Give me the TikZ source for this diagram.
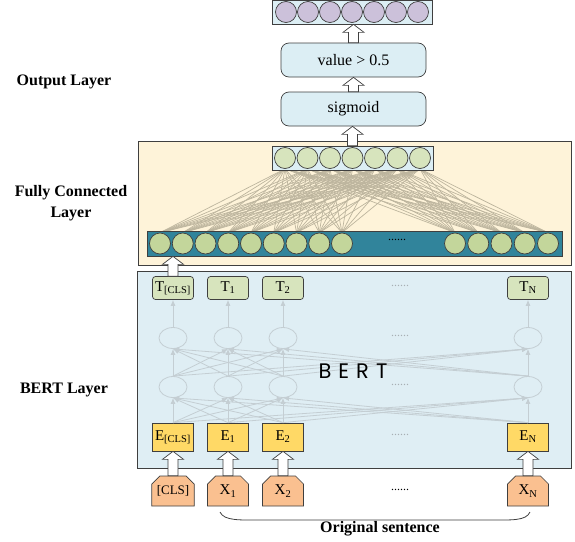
\documentclass[tikz,border=0pt]{standalone}
\usepackage{fontspec}
\setmainfont{Liberation Serif}
\newfontfamily\bertfont{Poppins}
\usetikzlibrary{arrows.meta, calc, shapes.geometric, shapes.misc}

\definecolor{boxblue}{HTML}{DCEEF4}
\definecolor{bertblue}{HTML}{DFEEF4}
\definecolor{fccream}{HTML}{FEF3D9}
\definecolor{outpurple}{HTML}{CCC1DA}
\definecolor{neurgreen}{HTML}{D7E4BD}
\definecolor{ingreen}{HTML}{C3D69B}
\definecolor{rowteal}{HTML}{31849B}
\definecolor{wirebeige}{HTML}{BDB59E}
\definecolor{hidgray}{HTML}{C4CED3}
\definecolor{embyellow}{HTML}{FFD966}
\definecolor{inppeach}{HTML}{FAC090}
\definecolor{edgegray}{HTML}{3F3F3F}

\pgfdeclarelayer{back}
\pgfdeclarelayer{mid}
\pgfsetlayers{back,mid,main}

\tikzset{
  neur/.style={circle, draw=edgegray, line width=0.7pt, minimum size=21pt, inner sep=0pt},
  row/.style={draw=edgegray, line width=0.7pt, inner sep=0pt},
  panel/.style={draw=edgegray, line width=0.7pt, inner sep=0pt},
  stage/.style={draw=edgegray, line width=0.7pt, rounded corners=8pt, fill=boxblue, minimum width=145pt, minimum height=34pt, font=\fontsize{16}{18}\selectfont},
  tok/.style={draw=edgegray, line width=0.7pt, rounded corners=3pt, fill=neurgreen, minimum width=41pt, minimum height=23pt, inner sep=1pt, font=\fontsize{15}{17}\selectfont},
  emb/.style={draw=edgegray, line width=0.7pt, fill=embyellow, minimum width=41pt, minimum height=28pt, inner sep=1pt, font=\fontsize{15}{17}\selectfont},
  inp/.style={chamfered rectangle, chamfered rectangle corners={north west,north east}, chamfered rectangle xsep=4pt, chamfered rectangle ysep=4pt, draw=edgegray, line width=0.7pt, fill=inppeach, minimum width=41pt, minimum height=30pt, inner sep=1pt, font=\fontsize{15}{17}\selectfont},
  hid/.style={ellipse, draw=hidgray, line width=0.8pt, minimum width=28pt, minimum height=21pt},
  wire/.style={draw=wirebeige, line width=0.7pt},
  link/.style={draw=hidgray, line width=0.8pt, -{Latex[length=6pt,width=5pt]}},
  lbl/.style={font=\fontsize{16}{21}\selectfont\bfseries, align=center},
  dots/.style={text=hidgray!85!black, font=\fontsize{12}{12}\selectfont}
}

\newcommand{\hollowup}[2]{%
  \draw[draw=edgegray, fill=white, line width=0.7pt] let \p1=(#1), \p2=(#2) in
    (\x1-5pt,\y1) -- (\x1-5pt,\y2-8pt) -- (\x1-10.5pt,\y2-8pt) -- (\x1,\y2)
    -- (\x1+10.5pt,\y2-8pt) -- (\x1+5pt,\y2-8pt) -- (\x1+5pt,\y1) -- cycle;}

\begin{document}
\begin{tikzpicture}[x=1pt, y=-1pt]
  \useasboundingbox (0,0) rectangle (575,541);

  \node[lbl] (outlbl) at (64,82) {Output Layer};
  \node[lbl] (fclbl) at (71,203) {Fully Connected\\Layer};
  \node[lbl] (bertlbl) at (64,390) {BERT Layer};

  \node[row, fill=boxblue, minimum width=160pt, minimum height=24pt] (outrow) at (352,12) {};
  \foreach \k in {1,...,7}
    \node[neur, fill=outpurple] (out\k) at ({286+22*(\k-1)},12) {};
  \node[stage] (thresh) at (353.5,60) {value > 0.5};
  \node[stage] (sigm) at (353.5,109) {sigmoid};

  \begin{pgfonlayer}{back}
    \node[panel, fill=fccream, minimum width=433pt, minimum height=124pt] (fcbox) at (354.5,203) {};
    \node[panel, fill=bertblue, minimum width=434pt, minimum height=197pt] (bertbox) at (354,369.5) {};
  \end{pgfonlayer}

  \node[row, fill=boxblue, minimum width=161pt, minimum height=24pt] (fcout) at (352.5,158) {};
  \foreach \k in {1,...,7}
    \node[neur, fill=neurgreen] (fo\k) at ({285+22.5*(\k-1)},158) {};
  \node[row, fill=rowteal, minimum width=415pt, minimum height=25pt] (fcin) at (354.5,243.5) {};
  \foreach \k in {1,...,9}
    \node[neur, fill=ingreen] (fi\k) at ({160+22.75*(\k-1)},243.5) {};
  \foreach \k in {10,...,14}
    \node[neur, fill=ingreen] (fi\k) at ({455+23.25*(\k-10)},243.5) {};
  \node[font=\fontsize{12}{12}\selectfont] (fcdots) at (397,240) {......};
  \begin{pgfonlayer}{mid}
    \foreach \i in {1,...,14}
      \foreach \j in {1,...,7}
        \draw[wire] (fi\i.north) -- (fo\j.south);
  \end{pgfonlayer}

  \foreach \i/\xx/\s in {0/173/[CLS],1/228/1,2/283/2,N/528/N} {
    \node[tok] (t\i) at (\xx,288) {T\textsubscript{\s}};
    \node[hid] (h\i) at (\xx,338) {};
    \node[hid] (g\i) at (\xx,387) {};
    \node[emb] (e\i) at (\xx,437) {E\textsubscript{\s}};
  }
  \node[inp, font=\fontsize{13}{15}\selectfont] (x0) at (173,491) {[CLS]};
  \foreach \i/\xx in {1/228,2/283,N/528}
    \node[inp] (x\i) at (\xx,491) {X\textsubscript{\i}};

  \foreach \i in {0,1,2,N} {
    \draw[link] (h\i) -- (t\i);
    \foreach \j in {0,1,2,N} {
      \draw[link] (e\i.north) -- (g\j.south);
      \draw[link] (g\i.north) -- (h\j.south);
    }
  }

  \node[font=\bertfont\fontsize{21}{21}\selectfont] (berttxt) at (353,371) {B\hspace{7pt}E\hspace{7pt}R\hspace{7pt}T};
  \node[dots] (tdots) at (400,286) {......};
  \node[dots] (hdots) at (400,336) {......};
  \node[dots] (gdots) at (400,385) {......};
  \node[dots] (edots) at (400,435) {......};
  \node[font=\fontsize{12}{12}\selectfont] (xdots) at (400,490) {......};

  \hollowup{thresh.north}{outrow.south}
  \hollowup{sigm.north}{thresh.south}
  \hollowup{fcout.north}{sigm.south}
  \coordinate (clsin) at (t0.north |- fcin.south);
  \hollowup{t0.north}{clsin}
  \foreach \i in {0,1,2,N} {
    \hollowup{x\i.north}{e\i.south}
  }

  \coordinate (bl) at (220,512);
  \coordinate (br) at (530,512);
  \draw[edgegray, line width=0.8pt] (bl) .. controls (224,521) and (240,520) .. (262,520) -- (488,520) .. controls (512,520) and (526,521) .. (br);
  \node[lbl] (sentence) at (380,529) {Original sentence};
\end{tikzpicture}
\end{document}
